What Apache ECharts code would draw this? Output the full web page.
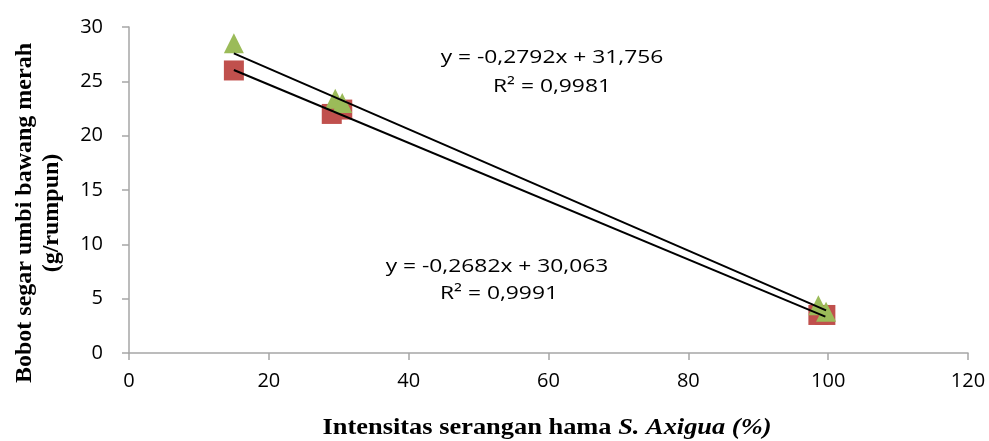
<!DOCTYPE html>
<html>
<head>
<meta charset="utf-8">
<script src="https://cdn.jsdelivr.net/npm/echarts@6/dist/echarts.min.js"></script>
<style>
  html, body { margin: 0; padding: 0; background: #fff; }
  #chart { width: 989px; height: 441px; }
</style>
</head>
<body>
<div id="chart"></div>
<script>
// data
var squareX = [15, 29, 30.5, 98.6, 99.6];
var squareY = [26, 22, 22.4, 3.5, 3.5];
var triangleX = [15, 29.5, 30.5, 98.6, 99.7];
var triangleY = [28.5, 23.4, 23.0, 4.4, 3.8];

// trendline coefficients (from the equations on the chart)
var slopes = [-0.2682, -0.2792];
var intercepts = [30.063, 31.756];
var eqLabels = ['y = -0,2682x + 30,063', 'y = -0,2792x + 31,756'];
var r2Labels = ['R² = 0,9991', 'R² = 0,9981'];

var xTicks = [0, 120, 20];
var yTicks = [0, 30, 5];

function pairs(xs, ys) {
  return xs.map(function (x, i) { return [x, ys[i]]; });
}
function trend(k, xs) {
  var x0 = Math.min.apply(null, xs), x1 = Math.max.apply(null, xs);
  return [[x0, slopes[k] * x0 + intercepts[k]], [x1, slopes[k] * x1 + intercepts[k]]];
}

var axisGray = '#a6a6a6';
var serif = 'Liberation Serif';

// text label helper (equations)
function eqText(str, x, y) {
  return {
    type: 'text', x: x, y: y, scaleX: 1.2,
    style: { text: str, fill: '#000', font: '19px "Open Sans"', textAlign: 'center', textVerticalAlign: 'middle' }
  };
}

var chart = echarts.init(document.getElementById('chart'));

var option = {
  animation: false,
  grid: { left: 129, top: 27, right: 21, bottom: 88 },
  xAxis: {
    type: 'value', min: xTicks[0], max: xTicks[1], interval: xTicks[2],
    splitLine: { show: false },
    axisLine: { lineStyle: { color: axisGray, width: 1.5 } },
    axisTick: { length: 7, lineStyle: { color: axisGray, width: 1.5 } },
    axisLabel: { color: '#000', fontFamily: 'Open Sans', fontSize: 20, margin: 18 }
  },
  yAxis: {
    type: 'value', min: yTicks[0], max: yTicks[1], interval: yTicks[2],
    splitLine: { show: false },
    axisLine: { show: true, lineStyle: { color: axisGray, width: 1.5 } },
    axisTick: { show: true, length: 7, lineStyle: { color: axisGray, width: 1.5 } },
    axisLabel: { color: '#000', fontFamily: 'Open Sans', fontSize: 20, margin: 26 }
  },
  series: [
    {
      type: 'scatter', symbol: 'rect', symbolSize: 20,
      itemStyle: { color: '#c0504d', opacity: 1 },
      data: pairs(squareX, squareY), z: 2
    },
    {
      type: 'scatter', symbol: 'triangle', symbolSize: [20, 20],
      itemStyle: { color: '#9bbb59', opacity: 1 },
      data: pairs(triangleX, triangleY), z: 3
    },
    {
      type: 'line', data: trend(0, squareX), showSymbol: false, z: 4,
      lineStyle: { color: '#000', width: 2 }
    },
    {
      type: 'line', data: trend(1, triangleX), showSymbol: false, z: 4,
      lineStyle: { color: '#000', width: 2 }
    }
  ],
  graphic: [
    eqText(eqLabels[1], 552, 58),
    eqText(r2Labels[1], 552, 87),
    eqText(eqLabels[0], 497, 267),
    eqText(r2Labels[0], 499, 294),
    {
      type: 'text', x: 547, y: 428, scaleX: 1.1,
      style: {
        text: 'Intensitas serangan hama {i|S. Axigua (%)}',
        fill: '#000', fontFamily: serif, fontWeight: 'bold', fontSize: 24,
        textAlign: 'center', textVerticalAlign: 'middle',
        rich: { i: { fontFamily: serif, fontWeight: 'bold', fontStyle: 'italic', fontSize: 24, fill: '#000' } }
      }
    },
    {
      type: 'text', x: 38, y: 213, rotation: Math.PI / 2,
      style: {
        text: 'Bobot segar umbi bawang merah\n(g/rumpun)',
        fill: '#000', fontFamily: serif, fontWeight: 'bold', fontSize: 24, lineHeight: 27,
        textAlign: 'center', textVerticalAlign: 'middle'
      }
    }
  ]
};

chart.setOption(option);
</script>
</body>
</html>
